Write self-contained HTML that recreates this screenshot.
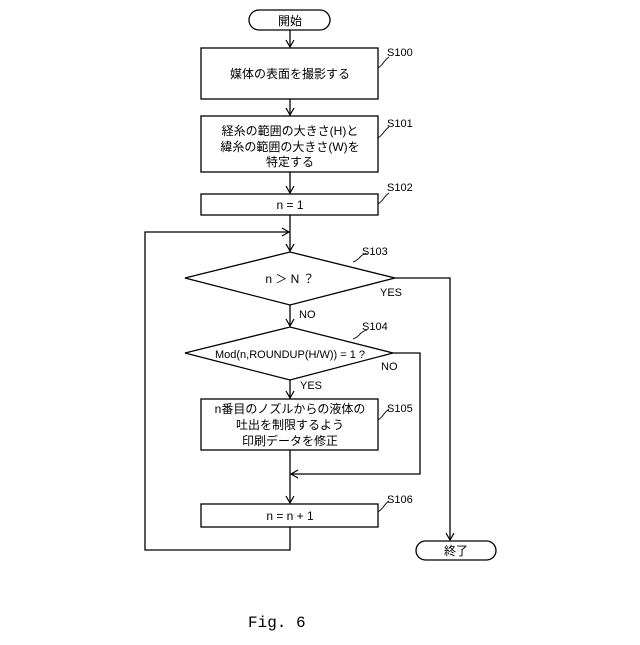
<!DOCTYPE html>
<html><head><meta charset="utf-8"><style>
body{margin:0;background:#fff}
text{font-family:"Liberation Sans","Noto Sans CJK JP",sans-serif;fill:#000}
text.fig{font-family:"Liberation Mono",monospace}
</style></head><body>
<svg width="640" height="640" viewBox="0 0 640 640" xmlns="http://www.w3.org/2000/svg">
<defs><marker id="a" markerWidth="10" markerHeight="10" refX="8" refY="5" orient="auto" markerUnits="userSpaceOnUse">
<path d="M1,1 L8,5 L1,9" fill="none" stroke="#000" stroke-width="1.2"/></marker></defs>
<g fill="none" stroke="#000" stroke-width="1.3">
<rect x="249" y="10" width="81" height="20" rx="10"/>
<rect x="201" y="48" width="177" height="51"/>
<rect x="201" y="116" width="177" height="56"/>
<rect x="201" y="194" width="177" height="21"/>
<polygon points="185,278 290,252 395,278 290,305"/>
<polygon points="185,353 290,327 393,353 290,380"/>
<rect x="201" y="399" width="177" height="51"/>
<rect x="201" y="504" width="177" height="23"/>
<rect x="416" y="541" width="80" height="19" rx="9.5"/>
<line x1="290" y1="30" x2="290" y2="47" marker-end="url(#a)"/>
<line x1="290" y1="99" x2="290" y2="115" marker-end="url(#a)"/>
<line x1="290" y1="172" x2="290" y2="193" marker-end="url(#a)"/>
<line x1="290" y1="215" x2="290" y2="251" marker-end="url(#a)"/>
<polyline points="290,527 290,550 145,550 145,232 289,232" marker-end="url(#a)"/>
<line x1="290" y1="305" x2="290" y2="326" marker-end="url(#a)"/>
<line x1="290" y1="380" x2="290" y2="398" marker-end="url(#a)"/>
<line x1="290" y1="450" x2="290" y2="503" marker-end="url(#a)"/>
<polyline points="395,278 450,278 450,540" marker-end="url(#a)"/>
<polyline points="393,353 420,353 420,474 291,474" marker-end="url(#a)"/>
<g stroke-width="0.9">
<path d="M378,68 q4,-3 6,-6 q2,-3 5,-5"/>
<path d="M378,138 q4,-3 6,-6 q2,-3 5,-5"/>
<path d="M378,204 q4,-3 6,-6 q2,-3 5,-5"/>
<path d="M353,262 q5,-2 7,-5 q3,-3 7,-4"/>
<path d="M353,339 q5,-2 7,-5 q3,-3 7,-4"/>
<path d="M378,420 q4,-3 6,-6 q2,-3 5,-5"/>
<path d="M378,512 q4,-3 6,-6 q2,-3 5,-5"/>
</g></g>
<g font-size="12" text-anchor="middle">
<text x="290" y="25">開始</text>
<text x="290" y="78">媒体の表面を撮影する</text>
<text x="290" y="135">経糸の範囲の大きさ(H)と</text>
<text x="290" y="151">緯糸の範囲の大きさ(W)を</text>
<text x="290" y="166">特定する</text>
<text x="290" y="209">n = 1</text>
<text x="290" y="283">n ＞ N ？</text>
<text x="290" y="358" font-size="11">Mod(n,ROUNDUP(H/W)) = 1 ?</text>
<text x="290" y="413">n番目のノズルからの液体の</text>
<text x="290" y="429">吐出を制限するよう</text>
<text x="290" y="445">印刷データを修正</text>
<text x="290" y="520">n = n + 1</text>
<text x="456" y="555">終了</text>
</g>
<g font-size="11">
<text x="387" y="56">S100</text>
<text x="387" y="127">S101</text>
<text x="387" y="191">S102</text>
<text x="362" y="255">S103</text>
<text x="362" y="330">S104</text>
<text x="387" y="412">S105</text>
<text x="387" y="503">S106</text>
<text x="380" y="296">YES</text>
<text x="299" y="318">NO</text>
<text x="381" y="370">NO</text>
<text x="300" y="389">YES</text>
</g>
<text class="fig" x="248" y="627" font-size="16">Fig. 6</text>
</svg>
</body></html>
